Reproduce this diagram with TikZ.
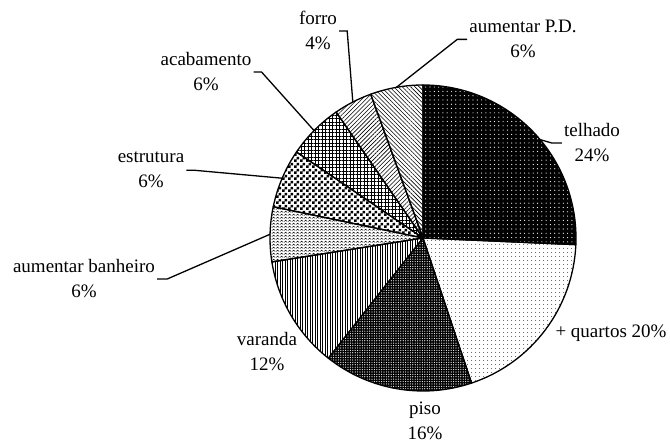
\documentclass[tikz,border=0pt]{standalone}
\usepackage{fontspec}
\setmainfont{Liberation Serif}
\usetikzlibrary{calc,patterns,patterns.meta}

% small tiles for the pie fills
\pgfdeclarepatternformonly{zigzag}{\pgfpointorigin}{\pgfpoint{4pt}{3pt}}{\pgfpoint{4pt}{3pt}}{
  \pgfsetlinewidth{0.6pt}
  \pgfpathmoveto{\pgfpoint{0pt}{0.6pt}}
  \pgfpathlineto{\pgfpoint{2pt}{2.4pt}}
  \pgfpathlineto{\pgfpoint{4pt}{0.6pt}}
  \pgfusepath{stroke}}
\pgfdeclarepatternformonly{smallchecker}{\pgfpointorigin}{\pgfpoint{6pt}{6pt}}{\pgfpoint{6pt}{6pt}}{
  \pgfpathrectangle{\pgfpointorigin}{\pgfpoint{3pt}{3pt}}
  \pgfpathrectangle{\pgfpoint{3pt}{3pt}}{\pgfpoint{3pt}{3pt}}
  \pgfusepath{fill}}

\newcommand{\pieslice}[3]{%
  \draw[wedge,#3] (C) -- ++(#1:\R) arc[start angle=#1, end angle=#2, radius=\R] -- cycle;}

\begin{document}
\begin{tikzpicture}[x=1pt,y=1pt,
    wedge/.style={line width=1.3pt, line join=round},
    lbl/.style={align=center, inner sep=2pt, anchor=base,
      font=\fontsize{19}{25}\selectfont},
    leader/.style={line width=1.3pt}]
  \useasboundingbox (0,0) rectangle (670,444);
  \def\R{153}
  \coordinate (C) at (423,206);

  % slices, counter-clockwise from the top
  \pieslice{90}{110}{pattern={Lines[angle=-45,distance=3pt,line width=0.6pt]}}
  \pieslice{110}{124.6}{pattern={Lines[angle=45,distance=3pt,line width=0.6pt]}}
  \pieslice{124.6}{145.8}{pattern={Hatch[angle=0,distance=3.5pt,line width=0.4pt]}}
  \pieslice{145.8}{168.2}{pattern=smallchecker}
  \pieslice{168.2}{189}{pattern=zigzag}
  \pieslice{189}{231.8}{pattern={Lines[angle=90,distance=2.5pt,line width=0.8pt]}}
  \pieslice{231.8}{288.5}{preaction={fill=black}, pattern={Dots[distance=2.4pt,radius=0.6pt]}, pattern color=white}
  \pieslice{288.5}{357.5}{pattern={Dots[distance=4pt,radius=0.5pt]}}
  \pieslice{357.5}{450}{preaction={fill=black}, pattern={Dots[distance=4.3pt,radius=0.6pt]}, pattern color=white}

  % points where the leaders meet the rim
  \coordinate (ePD)    at ($(C)+(100:\R)$);
  \coordinate (eForro) at ($(C)+(117.3:\R)$);
  \coordinate (eAcab)  at ($(C)+(135.4:\R)$);
  \coordinate (eEstr)  at ($(C)+(157:\R)$);
  \coordinate (eBanh)  at ($(C)+(178.6:\R)$);
  \coordinate (eTelh)  at ($(C)+(40:\R)$);

  % labels (base = last line)
  \node[lbl] (lblForro) at (318,394) {forro\\4\%};
  \node[lbl] (lblPD)    at (523,386) {aumentar P.D.\\6\%};
  \node[lbl] (lblAcab)  at (206,353) {acabamento\\6\%};
  \node[lbl] (lblTelh)  at (592,282) {telhado\\24\%};
  \node[lbl] (lblEstr)  at (151,256) {estrutura\\6\%};
  \node[lbl] (lblBanh)  at (84,146)  {aumentar banheiro\\6\%};
  \node[lbl] (lblVar)   at (267,73)  {varanda\\12\%};
  \node[lbl] (lblQuart) at (611,106) {+ quartos 20\%};
  \node[lbl] (lblPiso)  at (425,4)   {piso\\16\%};

  % leader lines
  \draw[leader] (lblPD.west) -- ++(-10,0) -- (ePD);
  \draw[leader] (lblForro.east) -- ++(8,0) -- (eForro);
  \draw[leader] (lblAcab.east) -- ++(8,0) -- (eAcab);
  \draw[leader] (lblEstr.east) -- ++(8,0) -- (eEstr);
  \draw[leader] (lblBanh.east) -- ++(10,0) -- (eBanh);
  \draw[leader] (lblTelh.west) -- ++(-10,0) -- (eTelh);
\end{tikzpicture}
\end{document}
